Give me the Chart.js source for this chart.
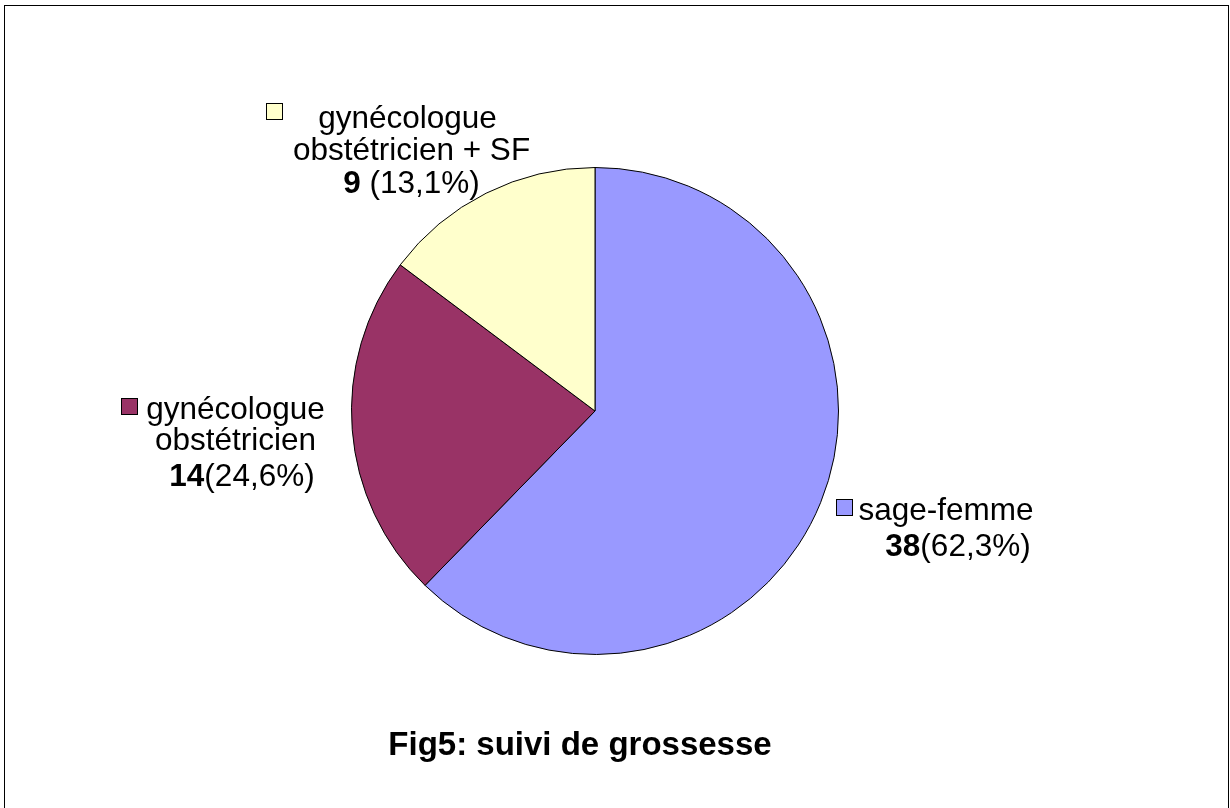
<!DOCTYPE html>
<html lang="fr">
<head>
    <meta charset="UTF-8">
    <title>Fig5: suivi de grossesse</title>
    <script src="https://cdn.jsdelivr.net/npm/chart.js"></script>
    <style>
        html, body { margin: 0; padding: 0; background: #fff; }
    </style>
</head>
<body>
    <canvas id="pieChart" width="1230" height="808"></canvas>

    <script>
        // données
        const categories = ['sage-femme', 'gynécologue obstétricien', 'gynécologue obstétricien + SF'];
        const counts = [38, 14, 9];
        const percents = ['62,3%', '24,6%', '13,1%'];
        const sliceColors = ['#9999FF', '#993366', '#FFFFCC'];
        const titleText = 'Fig5: suivi de grossesse';

        const FONT = '"Liberation Sans", Arial, sans-serif';
        const labelSize = 31.5;

        // mise en page des étiquettes (lignes de texte + petit carré de couleur)
        const labelLayout = [
            { marker: [836, 499], lines: [
                { parts: [[categories[0], false]], cx: 946, y: 520 },
                { parts: [[String(counts[0]), true], ['(' + percents[0] + ')', false]], cx: 958, y: 556 }
            ]},
            { marker: [121, 398], lines: [
                { parts: [['gynécologue', false]], cx: 235.5, y: 419 },
                { parts: [['obstétricien', false]], cx: 235.5, y: 450 },
                { parts: [[String(counts[1]), true], ['(' + percents[1] + ')', false]], cx: 242, y: 486 }
            ]},
            { marker: [266, 103], lines: [
                { parts: [['gynécologue', false]], cx: 407.5, y: 128 },
                { parts: [['obstétricien + SF', false]], cx: 411.5, y: 160 },
                { parts: [[String(counts[2]), true], [' (' + percents[2] + ')', false]], cx: 411.5, y: 193 }
            ]}
        ];

        const decorPlugin = {
            id: 'decor',
            beforeDraw(chart) {
                const ctx = chart.ctx;
                ctx.save();
                ctx.fillStyle = '#fff';
                ctx.fillRect(0, 0, chart.width, chart.height);
                ctx.strokeStyle = '#000';
                ctx.lineWidth = 1;
                ctx.strokeRect(4.5, 5.5, 1224, 900);
                ctx.restore();
            },
            afterDraw(chart) {
                const ctx = chart.ctx;
                ctx.save();
                ctx.textBaseline = 'alphabetic';
                ctx.fillStyle = '#000';

                labelLayout.forEach((lab, i) => {
                    // carré de légende
                    ctx.fillStyle = sliceColors[i];
                    ctx.fillRect(lab.marker[0] + 0.5, lab.marker[1] + 0.5, 16, 16);
                    ctx.strokeStyle = '#000';
                    ctx.lineWidth = 1;
                    ctx.strokeRect(lab.marker[0] + 0.5, lab.marker[1] + 0.5, 16, 16);

                    ctx.fillStyle = '#000';
                    lab.lines.forEach(line => {
                        let total = 0;
                        const widths = line.parts.map(p => {
                            ctx.font = (p[1] ? 'bold ' : '') + labelSize + 'px ' + FONT;
                            const w = ctx.measureText(p[0]).width;
                            total += w;
                            return w;
                        });
                        let x = line.cx - total / 2;
                        ctx.textAlign = 'left';
                        line.parts.forEach((p, k) => {
                            ctx.font = (p[1] ? 'bold ' : '') + labelSize + 'px ' + FONT;
                            ctx.fillText(p[0], x, line.y);
                            x += widths[k];
                        });
                    });
                });

                ctx.font = 'bold 33px ' + FONT;
                ctx.textAlign = 'center';
                ctx.fillText(titleText, 580, 755);
                ctx.restore();
            }
        };

        const ctx = document.getElementById('pieChart').getContext('2d');
        new Chart(ctx, {
            type: 'pie',
            data: {
                labels: categories,
                datasets: [{
                    data: counts,
                    backgroundColor: sliceColors,
                    borderColor: '#000',
                    borderWidth: 1
                }]
            },
            options: {
                responsive: false,
                animation: false,
                layout: { padding: { top: 167, bottom: 153, left: 351, right: 391 } },
                plugins: {
                    legend: { display: false },
                    tooltip: { enabled: false },
                    title: { display: false }
                }
            },
            plugins: [decorPlugin]
        });
    </script>
</body>
</html>
